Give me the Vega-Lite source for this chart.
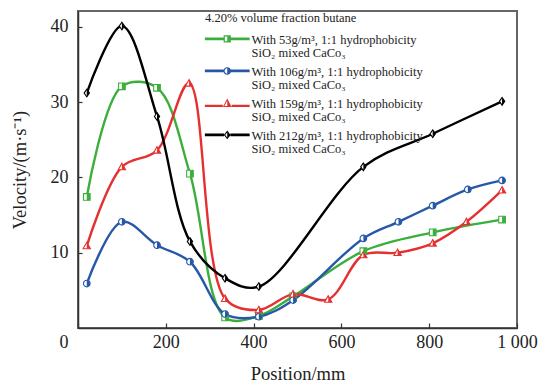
{
  "$schema": "https://vega.github.io/schema/vega-lite/v6.json",
  "width": 439,
  "height": 317,
  "autosize": {"type": "none"},
  "padding": {"left": 78, "top": 11, "right": 25, "bottom": 57},
  "background": "white",
  "config": {
    "font": "Liberation Serif",
    "view": {"stroke": "#666666", "strokeWidth": 2},
    "axis": {"grid": false, "domainColor": "#333333", "domainWidth": 1.5, "tickColor": "#333333", "tickWidth": 1.2, "labelFont": "Liberation Serif", "titleFont": "Liberation Serif", "labelColor": "#222222", "titleColor": "#222222", "labelFontSize": 18, "titleFontSize": 18.5, "titleFontWeight": "normal"}
  },
  "data": {"values": [
    {"s": "53", "x": 20, "y": 17.4}, {"s": "53", "x": 100, "y": 32.1}, {"s": "53", "x": 180, "y": 31.9}, {"s": "53", "x": 255, "y": 20.5}, {"s": "53", "x": 335, "y": 1.4}, {"s": "53", "x": 412, "y": 1.6}, {"s": "53", "x": 490, "y": 4.2}, {"s": "53", "x": 650, "y": 10.2}, {"s": "53", "x": 808, "y": 12.7}, {"s": "53", "x": 966, "y": 14.4},
    {"s": "106", "x": 20, "y": 5.9}, {"s": "106", "x": 100, "y": 14.1}, {"s": "106", "x": 180, "y": 11.0}, {"s": "106", "x": 255, "y": 8.8}, {"s": "106", "x": 335, "y": 1.85}, {"s": "106", "x": 412, "y": 1.5}, {"s": "106", "x": 490, "y": 3.7}, {"s": "106", "x": 650, "y": 11.9}, {"s": "106", "x": 730, "y": 14.1}, {"s": "106", "x": 808, "y": 16.25}, {"s": "106", "x": 888, "y": 18.4}, {"s": "106", "x": 966, "y": 19.6},
    {"s": "159", "x": 20, "y": 10.9}, {"s": "159", "x": 100, "y": 21.4}, {"s": "159", "x": 180, "y": 23.6}, {"s": "159", "x": 253, "y": 32.5}, {"s": "159", "x": 335, "y": 3.9}, {"s": "159", "x": 412, "y": 2.4}, {"s": "159", "x": 490, "y": 4.5}, {"s": "159", "x": 570, "y": 3.8}, {"s": "159", "x": 650, "y": 9.7}, {"s": "159", "x": 728, "y": 10.0}, {"s": "159", "x": 808, "y": 11.25}, {"s": "159", "x": 885, "y": 14.1}, {"s": "159", "x": 966, "y": 18.3},
    {"s": "212", "x": 20, "y": 31.2}, {"s": "212", "x": 100, "y": 40.1}, {"s": "212", "x": 180, "y": 28.1}, {"s": "212", "x": 255, "y": 11.5}, {"s": "212", "x": 335, "y": 6.6}, {"s": "212", "x": 412, "y": 5.5}, {"s": "212", "x": 650, "y": 21.4}, {"s": "212", "x": 808, "y": 25.8}, {"s": "212", "x": 966, "y": 30.1}
  ]},
  "encoding": {
    "x": {"field": "x", "type": "quantitative", "scale": {"domain": [0, 1000], "nice": false},
      "axis": {"title": "Position/mm", "values": [0, 200, 400, 600, 800, 1000], "tickSize": -5, "labelPadding": 10, "titlePadding": 13,
        "labelExpr": "datum.value == 1000 ? '1 000' : datum.label",
        "labelAlign": {"condition": {"test": "datum.value == 0", "value": "right"}, "value": "center"},
        "labelOffset": {"condition": {"test": "datum.value == 0", "value": -10}, "value": 0}}},
    "y": {"field": "y", "type": "quantitative", "scale": {"domain": [0, 42.1], "nice": false, "zero": false},
      "axis": {"title": "Velocity/(m·s⁻¹)", "values": [10, 20, 30, 40], "tickSize": -4, "labelPadding": 14, "titlePadding": 21}}
  },
  "resolve": {"scale": {"shape": "independent"}, "legend": {"shape": "independent", "color": "independent"}},
  "layer": [
    {"mark": {"type": "line", "interpolate": "catmull-rom", "strokeWidth": 2.4},
      "encoding": {"color": {"field": "s", "type": "nominal", "scale": {"domain": ["53", "106", "159", "212"], "range": ["#3cae3c", "#2757a8", "#e53030", "#000000"]}, "legend": null}}},
    {"mark": {"type": "point", "filled": false, "fill": "white", "fillOpacity": 1, "strokeWidth": 1.1, "size": 44, "opacity": 1},
      "encoding": {"stroke": {"field": "s", "type": "nominal", "scale": {"domain": ["53", "106", "159", "212"], "range": ["#3cae3c", "#2757a8", "#e53030", "#000000"]}, "legend": null},
        "shape": {"field": "s", "type": "nominal", "scale": {"domain": ["53", "106", "159", "212"], "range": ["M-1,-1 L1,-1 L1,1 L-1,1 Z", "M0,-1 A1,1 0 1,1 0,1 A1,1 0 1,1 0,-1 Z", "M0,-1.1 L1.1,0.85 L-1.1,0.85 Z", "M0,-1.15 L0.8,0 L0,1.15 L-0.8,0 Z"]}, "legend": null}}},
    {"mark": {"type": "point", "filled": true, "size": 44, "opacity": 1},
      "encoding": {"color": {"field": "s", "type": "nominal", "scale": {"domain": ["53", "106", "159", "212"], "range": ["#3cae3c", "#2757a8", "#e53030", "#000000"]}, "legend": null},
        "shape": {"field": "s", "type": "nominal", "scale": {"domain": ["53", "106", "159", "212"], "range": ["M0,-1 L1,-1 L1,1 L0,1 Z", "M0,-1 A1,1 0 0,1 0,1 Z", "M0,-1.1 L1.1,0.85 L0,0.85 Z", "M0,-1.15 L0.8,0 L0,1.15 Z"]}, "legend": null}}},
    {"mark": {"type": "point", "filled": true, "opacity": 0, "size": 64},
      "encoding": {"color": {"field": "s", "type": "nominal", "scale": {"domain": ["53", "106", "159", "212"], "range": ["#3cae3c", "#2757a8", "#e53030", "#000000"]},
        "legend": {"orient": "none", "legendX": 127, "legendY": 1, "title": "4.20% volume fraction butane", "titleFont": "Liberation Serif", "titleFontSize": 12.5, "titleFontWeight": "normal", "titleColor": "#222222", "titlePadding": 3,
          "labelFont": "Liberation Serif", "labelFontSize": 12.5, "labelColor": "#222222", "labelLimit": 400,
          "labelExpr": "['With ' + datum.label + 'g/m³, 1:1 hydrophobicity', 'SiO₂ mixed CaCo₃']",
          "encode": {"labels": {"update": {"lineHeight": {"value": 13}}}},
          "symbolOpacity": 1, "symbolStrokeWidth": 0, "symbolSize": 64, "symbolOffset": 6, "labelOffset": 28, "rowPadding": 0, "labelBaseline": "top"}},
        "shape": {"field": "s", "type": "nominal", "scale": {"domain": ["53", "106", "159", "212"], "range": [
        "M-3.1,0.95 L1.6,0.95 L1.6,1.65 L-3.1,1.65 Z M3.4,0.95 L8.1,0.95 L8.1,1.65 L3.4,1.65 Z M1.6,0.4 L3.4,0.4 L3.4,2.2 L1.6,2.2 Z M1.9,0.7 L1.9,1.9 L2.5,1.9 L2.5,0.7 Z",
        "M-3.1,0.95 L1.6,0.95 L1.6,1.65 L-3.1,1.65 Z M3.4,0.95 L8.1,0.95 L8.1,1.65 L3.4,1.65 Z M2.5,0.35 A0.95,0.95 0 1,1 2.5,2.25 A0.95,0.95 0 1,1 2.5,0.35 Z M2.5,0.65 A0.65,0.65 0 0,0 2.5,1.95 Z",
        "M-3.1,1.75 L1.4,1.75 L1.4,2.3 L-3.1,2.3 Z M3.6,1.75 L8.1,1.75 L8.1,2.3 L3.6,2.3 Z M2.5,0.2 L3.6,2.3 L1.4,2.3 Z M2.5,0.75 L1.8,2.05 L2.5,2.05 Z",
        "M-3.1,0.95 L1.7,0.95 L1.7,1.65 L-3.1,1.65 Z M3.3,0.95 L8.1,0.95 L8.1,1.65 L3.3,1.65 Z M2.5,0.2 L3.35,1.3 L2.5,2.4 L1.65,1.3 Z M2.5,0.6 L2.0,1.3 L2.5,2.0 Z"
      ]},
        "legend": {"orient": "none", "legendX": 127, "legendY": 1, "title": "4.20% volume fraction butane", "titleFont": "Liberation Serif", "titleFontSize": 12.5, "titleFontWeight": "normal", "titleColor": "#222222", "titlePadding": 3,
          "labelFont": "Liberation Serif", "labelFontSize": 12.5, "labelColor": "#222222", "labelLimit": 400,
          "labelExpr": "['With ' + datum.label + 'g/m³, 1:1 hydrophobicity', 'SiO₂ mixed CaCo₃']",
          "encode": {"labels": {"update": {"lineHeight": {"value": 13}}}},
          "symbolOpacity": 1, "symbolStrokeWidth": 0, "symbolSize": 64, "symbolOffset": 6, "labelOffset": 28, "rowPadding": 0, "labelBaseline": "top"}}}}
  ]
}
